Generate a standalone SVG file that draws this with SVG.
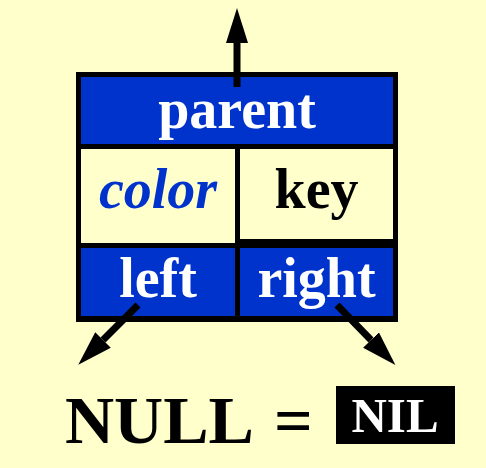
<svg xmlns="http://www.w3.org/2000/svg" width="486" height="468" viewBox="0 0 486 468">
<style>
.t{font-family:"Liberation Serif","Times New Roman",serif;font-weight:bold;text-anchor:middle}
.w{fill:#ffffff}
.blue{fill:#0033cc}
.cream{fill:#ffffcc}
.ptr{stroke:#000;stroke-width:7;fill:none}
</style>
<defs>
<marker id="ah" markerUnits="userSpaceOnUse" markerWidth="36" markerHeight="22" refX="0" refY="11" orient="auto" viewBox="0 0 36 22">
<path d="M0,0 L35,11 L0,22 Z" fill="#000"/>
</marker>
</defs>
<rect width="486" height="468" fill="#ffffcc"/>
<g id="node">
<rect x="76" y="72" width="322" height="250" fill="#000"/>
<g id="parent"><rect class="blue" x="81" y="77" width="312" height="67"/><text class="t w" x="237" y="128" font-size="56">parent</text></g>
<g id="color"><rect class="cream" x="81" y="149" width="154" height="94"/><text class="t" x="158" y="208" font-size="56" font-style="italic" fill="#0033cc">color</text></g>
<g id="key"><rect class="cream" x="240" y="149" width="153" height="90"/><text class="t" x="316.5" y="208" font-size="56" fill="#000">key</text></g>
<g id="left"><rect class="blue" x="81" y="248" width="154" height="68"/><text class="t w" x="158" y="297" font-size="56">left</text></g>
<g id="right"><rect class="blue" x="240" y="248" width="153" height="68"/><text class="t w" x="316.5" y="297" font-size="56">right</text></g>
</g>
<g id="connectors">
<line class="ptr" x1="237" y1="87" x2="237" y2="43" marker-end="url(#ah)"/>
<line class="ptr" x1="138" y1="305" x2="103" y2="340" marker-end="url(#ah)"/>
<line class="ptr" x1="337" y1="305" x2="371" y2="340" marker-end="url(#ah)"/>
</g>
<g id="legend">
<text class="t" x="65" y="443" font-size="68" fill="#000" style="text-anchor:start">NULL <tspan x="274">=</tspan></text>
<g id="nil"><rect x="336" y="386" width="119" height="58" fill="#000"/><text class="t w" x="395" y="432" font-size="49">NIL</text></g>
</g>
</svg>
